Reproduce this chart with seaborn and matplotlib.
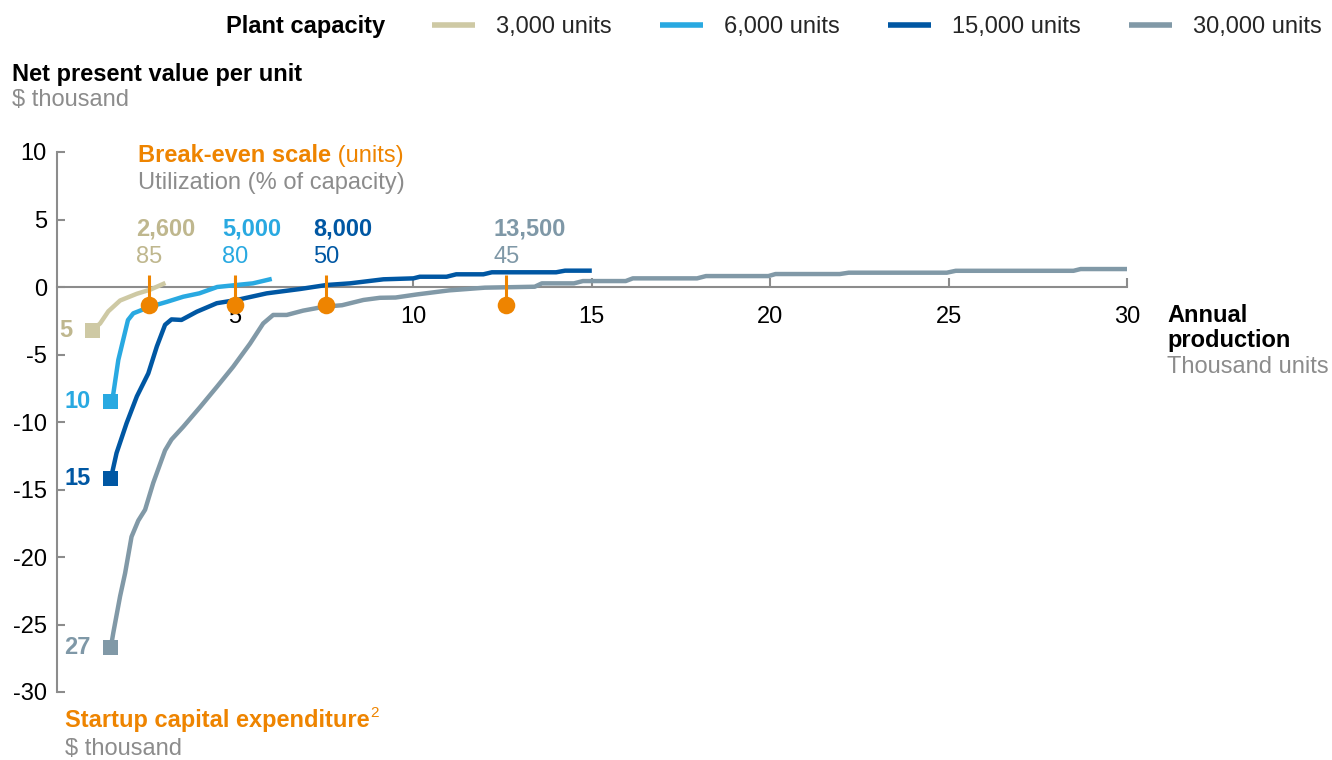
import numpy as np
import pandas as pd
import matplotlib
matplotlib.use("Agg")
import matplotlib.pyplot as plt
import seaborn as sns

# ---------------- data ----------------
capacities = ["3,000 units", "6,000 units", "15,000 units", "30,000 units"]

x_3000 = [1.0, 1.22, 1.45, 1.78, 2.25, 2.62, 3.05]
y_3000 = [-3.2, -2.7, -1.8, -1.0, -0.5, -0.2, 0.3]

x_6000 = [1.52, 1.59, 1.73, 2.0, 2.15, 2.62, 3.09, 3.55, 4.0, 4.5, 5.05, 5.5, 6.03]
y_6000 = [-8.5, -7.9, -5.4, -2.45, -1.95, -1.46, -1.1, -0.72, -0.47, 0.0, 0.15, 0.27, 0.6]

x_15000 = [1.52, 1.68, 1.96, 2.25, 2.57, 2.81, 3.04, 3.22, 3.5, 3.93, 4.49, 5.05, 5.89,
           6.82, 7.57, 8.22, 9.16, 10.0, 10.18, 10.93, 11.2, 11.96, 12.2, 14.0, 14.25, 15.0]
y_15000 = [-14.2, -12.3, -10.1, -8.1, -6.4, -4.4, -2.8, -2.4, -2.44, -1.83, -1.2, -0.96, -0.47,
           -0.15, 0.15, 0.27, 0.57, 0.64, 0.76, 0.76, 0.94, 0.94, 1.09, 1.09, 1.21, 1.21]

x_30000 = [1.52, 1.59, 1.78, 1.92, 2.1, 2.29, 2.48, 2.71, 3.04, 3.22, 3.55, 4.02, 4.49,
           4.95, 5.42, 5.79, 6.07, 6.45, 6.91, 7.5, 8.0, 8.6, 9.06, 9.5, 10.1, 11.0, 12.0,
           13.4, 13.6, 14.5, 14.75, 15.95, 16.15, 17.95, 18.2, 19.95, 20.15, 21.95, 22.2,
           24.95, 25.2, 28.5, 28.7, 30.0]
y_30000 = [-26.7, -25.6, -22.9, -21.2, -18.5, -17.3, -16.5, -14.5, -12.1, -11.3, -10.35, -8.9, -7.4,
           -5.9, -4.2, -2.7, -2.07, -2.07, -1.75, -1.46, -1.35, -0.96, -0.8, -0.78, -0.55, -0.25, -0.05,
           0.02, 0.27, 0.27, 0.44, 0.44, 0.64, 0.64, 0.81, 0.81, 0.96, 0.96, 1.06,
           1.06, 1.2, 1.2, 1.33, 1.33]

startup_capex = ["5", "10", "15", "27"]
breakeven_units = ["2,600", "5,000", "8,000", "13,500"]
breakeven_x = [2.6, 5.0, 7.55, 12.6]
utilization = ["85", "80", "50", "45"]
breakeven_marker_y = -1.3

x_ticks = [5, 10, 15, 20, 25, 30]
y_ticks = [10, 5, 0, -5, -10, -15, -20, -25, -30]

# ---------------- style ----------------
line_colors = ["#CEC9A4", "#29A9E1", "#0057A3", "#8199A7"]
text_colors = ["#BFB78E", "#29A9E1", "#0057A3", "#7F98A7"]
orange = "#EE8400"
gray_txt = "#8C8C8C"
axis_gray = "#8C8C8C"

sns.set_theme(style="white")
plt.rcParams["font.family"] = ["Liberation Sans", "DejaVu Sans"]
FS = 17

W, H = 1332, 760
fig = plt.figure(figsize=(W / 100, H / 100), dpi=100)
x0, x30 = 56.6, 1127.0
y10, ym30 = 152.0, 692.0
ax = fig.add_axes([x0 / W, 1 - ym30 / H, (x30 - x0) / W, (ym30 - y10) / H])
ax.set_facecolor("none")

def fx(px):
    return px / W

def fy(py):
    return 1 - py / H

# long data frame
series_x = [x_3000, x_6000, x_15000, x_30000]
series_y = [y_3000, y_6000, y_15000, y_30000]
frames = []
for cap, xs, ys in zip(capacities, series_x, series_y):
    frames.append(pd.DataFrame({"x": xs, "y": ys, "capacity": cap}))
df = pd.concat(frames, ignore_index=True)

sns.lineplot(data=df, x="x", y="y", hue="capacity", hue_order=capacities,
             palette=line_colors, estimator=None, sort=False, linewidth=3.2,
             ax=ax, zorder=3, legend=True)
for ln in ax.lines:
    ln.set_solid_capstyle("butt")
    ln.set_solid_joinstyle("round")

starts = df.groupby("capacity", sort=False).first().reset_index()
sns.scatterplot(data=starts, x="x", y="y", hue="capacity", hue_order=capacities,
                palette=line_colors, marker="s", s=120, linewidth=0, ax=ax,
                zorder=4, legend=False)

# break-even stems and dots
ax.vlines(breakeven_x, breakeven_marker_y, 0.9, color=orange, linewidth=2.2, zorder=5)
be_df = pd.DataFrame({"x": breakeven_x, "y": [breakeven_marker_y] * len(breakeven_x)})
sns.scatterplot(data=be_df, x="x", y="y", color=orange, s=160, linewidth=0, ax=ax,
                zorder=6, legend=False)

# axes
ax.set_xlim(0, 30)
ax.set_ylim(-30, 10)
ax.set_xticks(x_ticks)
ax.set_yticks(y_ticks)
ax.set_xticklabels([str(t) for t in x_ticks])
ax.set_yticklabels([str(t) for t in y_ticks])
ax.set_xlabel("")
ax.set_ylabel("")
for s in ["top", "right"]:
    ax.spines[s].set_visible(False)
ax.spines["left"].set_color(axis_gray)
ax.spines["left"].set_linewidth(1.5)
ax.spines["bottom"].set_color(axis_gray)
ax.spines["bottom"].set_linewidth(1.5)
ax.spines["bottom"].set_position(("data", 0))
ax.spines["bottom"].set_zorder(2)
ax.tick_params(axis="y", direction="in", length=6, width=1.5, color=axis_gray,
               labelsize=FS, labelcolor="black", pad=7, left=True)
ax.tick_params(axis="x", direction="in", length=6.5, width=1.5, color=axis_gray,
               labelsize=FS, labelcolor="black", pad=14, bottom=True)
ax.grid(False)

# legend
handles, labels = ax.get_legend_handles_labels()
ax.legend_.remove()
leg = fig.legend(handles, labels, loc="center left", bbox_to_anchor=(fx(432), fy(27)),
                 ncol=4, frameon=False, fontsize=FS, handlelength=1.84,
                 handletextpad=0.88, columnspacing=2.03, borderpad=0, borderaxespad=0)
for h in leg.get_lines():
    h.set_linewidth(4)
fig.text(fx(226), fy(27), "Plant capacity", fontsize=FS, fontweight="bold",
         ha="left", va="center", color="black")

# helper for multi-style text runs
fig.canvas.draw()
renderer = fig.canvas.get_renderer()

def text_run(px, py, parts):
    x = px
    for txt, kw in parts:
        t = fig.text(fx(x), fy(py), txt, ha="left", va="center", **kw)
        bb = t.get_window_extent(renderer=renderer)
        x += bb.width
    return x

fig.text(fx(12), fy(75), "Net present value per unit", fontsize=FS, fontweight="bold",
         ha="left", va="center", color="black")
fig.text(fx(12), fy(100), "$ thousand", fontsize=FS, ha="left", va="center", color=gray_txt)

text_run(138, 156, [("Break-even scale", dict(fontsize=FS, fontweight="bold", color=orange)),
                    (" (units)", dict(fontsize=FS, color=orange))])
fig.text(fx(138), fy(183), "Utilization (% of capacity)", fontsize=FS, ha="left",
         va="center", color=gray_txt)

fig.text(fx(1167), fy(316), "Annual", fontsize=FS, fontweight="bold", ha="left",
         va="center", color="black")
fig.text(fx(1167), fy(341), "production", fontsize=FS, fontweight="bold", ha="left",
         va="center", color="black")
fig.text(fx(1167), fy(367), "Thousand units", fontsize=FS, ha="left", va="center",
         color=gray_txt)

end = text_run(65, 720, [("Startup capital expenditure",
                          dict(fontsize=FS, fontweight="bold", color=orange))])
fig.text(fx(end + 1), fy(713), "2", fontsize=11, ha="left", va="center", color=orange)
fig.text(fx(65), fy(749), "$ thousand", fontsize=FS, ha="left", va="center", color=gray_txt)

# break-even labels
for bx, u, ut, c in zip(breakeven_x, breakeven_units, utilization, text_colors):
    ax.annotate(u, xy=(bx, fy(229)), xycoords=("data", "figure fraction"),
                xytext=(-9.4, 0), textcoords="offset points", ha="left", va="center",
                fontsize=FS, fontweight="bold", color=c)
    ax.annotate(ut, xy=(bx, fy(257)), xycoords=("data", "figure fraction"),
                xytext=(-9.4, 0), textcoords="offset points", ha="left", va="center",
                fontsize=FS, color=c)

# startup capex labels next to squares
for (_, row), lab, c in zip(starts.iterrows(), startup_capex, text_colors):
    ax.annotate(lab, xy=(row["x"], row["y"]), xytext=(-14.4, 0), textcoords="offset points",
                ha="right", va="center", fontsize=FS, fontweight="bold", color=c,
                annotation_clip=False)

fig.savefig("out.png", dpi=100)
